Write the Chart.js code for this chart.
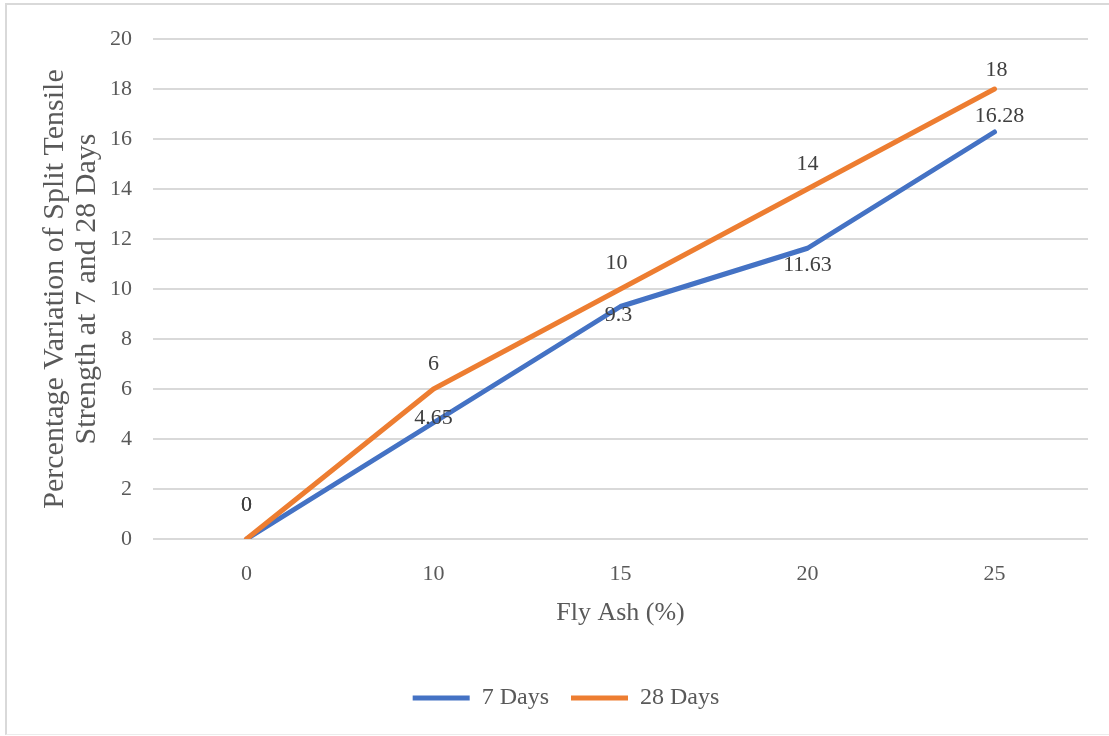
<!DOCTYPE html>
<html>
<head>
<meta charset="utf-8">
<script src="https://cdn.jsdelivr.net/npm/chart.js@4/dist/chart.umd.min.js"></script>
<style>
  html, body { margin: 0; padding: 0; background: #ffffff; }
  body { width: 1109px; height: 736px; position: relative; overflow: hidden; }
  #frame {
    position: absolute; left: 5px; top: 3px; width: 1200px; height: 729px;
    border-left: 2px solid #d9d9d9; border-top: 2px solid #d9d9d9; border-bottom: 1px solid #ececec;
  }
  #wrap { position: absolute; left: 0; top: 0; width: 1109px; height: 736px; }
</style>
</head>
<body>
<div id="frame"></div>
<div id="wrap"><canvas id="chart" width="1109" height="736"></canvas></div>
<script>
// Fly ash replacement levels (%) on the category axis
const flyAsh = ['0', '10', '15', '20', '25'];

// Percentage variation of split tensile strength
const days7 = [0, 4.65, 9.3, 11.63, 16.28];
const days28 = [0, 6, 10, 14, 18];

// Value axis ticks
const yMin = 0;
const yMax = 20;
const yStep = 2;

const SERIF = '"Liberation Serif", "Times New Roman", serif';
const TEXT = '#595959';

// Where each value label sits relative to its point (pixels)
const labelPlacement = [
  [[0, -34], [0, -5], [-2, 9], [0, 17], [5, -16]],
  [[0, -34], [0, -25], [-4, -26], [0, -25], [2, -19]]
];

const valueLabels = {
  id: 'valueLabels',
  afterDatasetsDraw(chart) {
    const ctx = chart.ctx;
    ctx.save();
    ctx.font = '22px ' + SERIF;
    ctx.fillStyle = '#404040';
    ctx.textAlign = 'center';
    ctx.textBaseline = 'middle';
    chart.data.datasets.forEach((ds, di) => {
      const meta = chart.getDatasetMeta(di);
      meta.data.forEach((pt, i) => {
        const [dx, dy] = labelPlacement[di][i];
        ctx.fillText(String(ds.data[i]), pt.x + dx, pt.y + dy);
      });
    });
    ctx.restore();
  }
};

new Chart(document.getElementById('chart'), {
  type: 'line',
  data: {
    labels: flyAsh,
    datasets: [
      {
        label: '7 Days',
        data: days7,
        borderColor: '#4472C4',
        backgroundColor: '#4472C4',
        borderWidth: 5,
        borderCapStyle: 'round',
        borderJoinStyle: 'round',
        pointRadius: 0,
        tension: 0,
        order: 1
      },
      {
        label: '28 Days',
        data: days28,
        borderColor: '#ED7D31',
        backgroundColor: '#ED7D31',
        borderWidth: 5,
        borderCapStyle: 'round',
        borderJoinStyle: 'round',
        pointRadius: 0,
        tension: 0,
        order: 0
      }
    ]
  },
  options: {
    responsive: false,
    animation: false,
    devicePixelRatio: 1,
    layout: { padding: { left: 44, top: 39, right: 21, bottom: 16 } },
    plugins: {
      tooltip: { enabled: false },
      legend: {
        position: 'bottom',
        align: 'center',
        labels: {
          font: { family: SERIF, size: 24 },
          color: TEXT,
          padding: 22,
          boxWidth: 57,
          boxHeight: 5,
          useBorderRadius: true,
          borderRadius: 2.5,
          sort: (a, b) => a.datasetIndex - b.datasetIndex,
          generateLabels(chart) {
            return chart.data.datasets.map((ds, i) => ({
              text: ds.label,
              fillStyle: ds.borderColor,
              strokeStyle: ds.borderColor,
              lineWidth: 0,
              fontColor: TEXT,
              datasetIndex: i,
              hidden: false
            }));
          }
        }
      }
    },
    scales: {
      x: {
        offset: true,
        grid: { display: false, drawTicks: false },
        border: { display: false },
        ticks: { font: { family: SERIF, size: 22 }, color: TEXT, padding: 22 },
        title: {
          display: true,
          text: 'Fly Ash (%)',
          font: { family: SERIF, size: 26, lineHeight: 1.2 },
          color: TEXT,
          padding: { top: 0, bottom: 35 }
        },
        afterFit(scale) {
          scale.height = 736 - 16 - scale.chart.legend.height - 539;
        }
      },
      y: {
        min: yMin,
        max: yMax,
        grid: { color: '#d9d9d9', lineWidth: 2, drawTicks: false },
        border: { display: false },
        ticks: {
          stepSize: yStep,
          font: { family: SERIF, size: 22 },
          color: TEXT,
          padding: 21
        },
        title: {
          display: true,
          text: ['Percentage Variation of Split Tensile', 'Strength at 7 and 28 Days'],
          font: { family: SERIF, size: 30, lineHeight: 32 / 30 },
          color: TEXT,
          padding: { top: -5, bottom: 0 }
        },
        afterFit(scale) {
          scale.width = 153 - 44;
        }
      }
    }
  },
  plugins: [valueLabels]
});
</script>
</body>
</html>
